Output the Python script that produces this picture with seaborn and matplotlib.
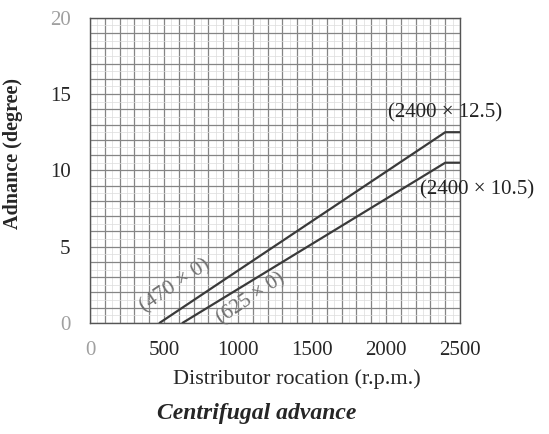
import numpy as np
import pandas as pd
import matplotlib
matplotlib.use("Agg")
import matplotlib.pyplot as plt
import seaborn as sns

# Curve data: distributor speed (rpm) vs centrifugal advance (degree)
upper_rpm = [470, 2400, 2500]
upper_adv = [0, 12.5, 12.5]
lower_rpm = [625, 2400, 2500]
lower_adv = [0, 10.5, 10.5]

x_ticks = [0, 500, 1000, 1500, 2000, 2500]
y_ticks = [0, 5, 10, 15, 20]

sns.set_style("white")
plt.rcParams["font.family"] = ["Liberation Serif", "DejaVu Serif"]

fig = plt.figure(figsize=(5.49, 4.34), dpi=100)
ax = fig.add_axes([0.164, 0.256, 0.674, 0.703])

# graph-paper grid
for xv in np.arange(0, 2501, 50):
    strong = xv % 100 == 0
    ax.axvline(xv, color="#858585" if strong else "#dcdcdc",
               lw=0.9 if strong else 0.5, zorder=0)
for yv in np.arange(0, 20.01, 0.5):
    strong = yv % 1 == 0
    ax.axhline(yv, color="#858585" if strong else "#dcdcdc",
               lw=0.9 if strong else 0.5, zorder=0)

df = pd.concat([
    pd.DataFrame({"rpm": upper_rpm, "adv": upper_adv, "curve": "upper"}),
    pd.DataFrame({"rpm": lower_rpm, "adv": lower_adv, "curve": "lower"}),
])
sns.lineplot(data=df, x="rpm", y="adv", units="curve", estimator=None,
             color="#3a3a3a", lw=1.6, ax=ax, zorder=3)

ax.set_xlim(0, 2500)
ax.set_ylim(0, 20)
ax.set_xticks(x_ticks)
ax.set_yticks(y_ticks)
ax.tick_params(length=0, labelsize=15)
ax.tick_params(axis="x", pad=13)
ax.tick_params(axis="y", pad=14)
for lab in ax.get_xticklabels()[:1] + ax.get_yticklabels()[:1] + ax.get_yticklabels()[-1:]:
    lab.set_color("#a0a0a0")
for s in ax.spines.values():
    s.set_color("#555555")
    s.set_linewidth(1.0)

ax.set_xlabel("Distributor rocation (r.p.m.)", fontsize=16)
ax.xaxis.set_label_coords(0.56, -0.152)
ax.set_ylabel("Adnance (degree)", fontsize=14.5, fontweight="bold")
ax.yaxis.set_label_coords(-0.182, 0.555)

ax.text(2014, 13.8, "(2400 × 12.5)", fontsize=15, color="#222222",
        va="center", ha="left", clip_on=False)
ax.text(2230, 8.7, "(2400 × 10.5)", fontsize=15, color="#222222",
        va="center", ha="left", clip_on=False)
ax.text(385, 0.45, "(470 × 0)", fontsize=15.5, color="#707070",
        rotation=34, rotation_mode="anchor", ha="left", va="bottom", zorder=4)
ax.text(905, -0.35, "(625 × 0)", fontsize=15, color="#707070",
        rotation=34, rotation_mode="anchor", ha="left", va="bottom", zorder=4,
        clip_on=False)

fig.text(0.468, 0.048, "Centrifugal advance", ha="center", va="center",
         fontsize=17, style="italic", fontweight="bold")

fig.savefig("out.png", dpi=100, facecolor="white")
